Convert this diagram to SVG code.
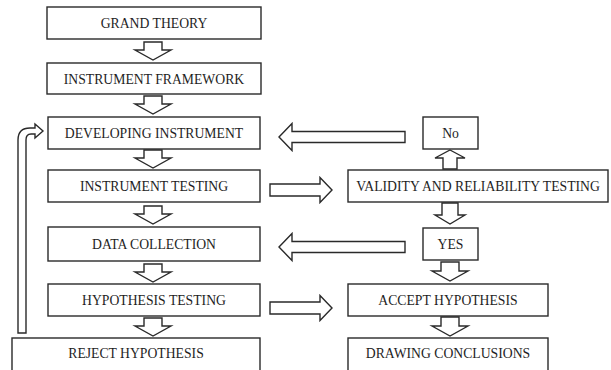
<svg xmlns="http://www.w3.org/2000/svg" width="611" height="370" viewBox="0 0 611 370">
<style>
.box{fill:#fff;stroke:#2a2a2a;stroke-width:1.4}
.arr{fill:#fff;stroke:#2a2a2a;stroke-width:1.4;stroke-linejoin:miter}
text{font-family:"Liberation Serif","Times New Roman",serif;font-size:13.7px;fill:#1e1e1e;text-anchor:middle}
</style>
<defs>
<path id="dnL" d="M -9,-18 H 9 V -10 H 18 L 0,0 L -18,-10 H -9 Z"/>
<path id="dnR" d="M -8,-21 H 8 V -9 H 15 L 0,0 L -15,-9 H -8 Z"/>
<path id="dnR2" d="M -9,-19 H 9 V -10 H 18 L 0,0 L -18,-10 H -9 Z"/>
<path id="lt" d="M 0,0 L 13,-13.5 V -5.5 H 126 V 5.5 H 13 V 13.5 Z"/>
<path id="rt" d="M 0,0 L -12,-12.5 V -6 H -62 V 6 H -12 V 12.5 Z"/>
</defs>
<g id="connectors">
<use href="#dnL" class="arr" x="153" y="60"/>
<use href="#dnL" class="arr" x="153" y="114"/>
<use href="#dnL" class="arr" x="153" y="168"/>
<use href="#dnL" class="arr" x="153" y="224"/>
<use href="#dnL" class="arr" x="153" y="282"/>
<use href="#dnL" class="arr" x="153" y="336"/>
<path class="arr" d="M 450,150 L 465,158 H 457 V 169 H 443 V 158 H 435 Z"/>
<use href="#dnR" class="arr" x="450" y="224"/>
<use href="#dnR2" class="arr" x="450" y="281"/>
<use href="#dnR2" class="arr" x="450" y="336"/>
<use href="#lt" class="arr" x="279" y="137"/>
<use href="#lt" class="arr" x="279" y="247"/>
<use href="#rt" class="arr" x="332" y="190"/>
<use href="#rt" class="arr" x="332" y="308"/>
<path class="arr" d="M 18,333 V 140 Q 18,128 30,128 H 35 V 124 L 43,131 L 35,138 V 134 H 31 Q 26,134 26,140 V 333 Z"/>
</g>
<g id="grand-theory"><rect class="box" x="47" y="7" width="214" height="32"/><text x="154" y="28">GRAND THEORY</text></g>
<g id="instrument-framework"><rect class="box" x="47" y="63" width="214" height="31"/><text x="154" y="83.5">INSTRUMENT FRAMEWORK</text></g>
<g id="developing-instrument"><rect class="box" x="48" y="117" width="212" height="32"/><text x="154" y="138">DEVELOPING INSTRUMENT</text></g>
<g id="instrument-testing"><rect class="box" x="48" y="170" width="212" height="32"/><text x="154" y="191">INSTRUMENT TESTING</text></g>
<g id="data-collection"><rect class="box" x="48" y="227" width="212" height="34"/><text x="154" y="249">DATA COLLECTION</text></g>
<g id="hypothesis-testing"><rect class="box" x="48" y="284" width="212" height="32"/><text x="154" y="305">HYPOTHESIS TESTING</text></g>
<g id="reject-hypothesis"><rect class="box" x="12" y="338" width="248" height="36"/><text x="136" y="358">REJECT HYPOTHESIS</text></g>
<g id="no"><rect class="box" x="423" y="117" width="55" height="32"/><text x="450.5" y="138">No</text></g>
<g id="validity-reliability-testing"><rect class="box" x="348" y="170" width="260" height="32"/><text x="478" y="191">VALIDITY AND RELIABILITY TESTING</text></g>
<g id="yes"><rect class="box" x="423" y="228" width="55" height="32"/><text x="450.5" y="249">YES</text></g>
<g id="accept-hypothesis"><rect class="box" x="348" y="284" width="200" height="32"/><text x="448" y="305">ACCEPT HYPOTHESIS</text></g>
<g id="drawing-conclusions"><rect class="box" x="348" y="338" width="200" height="36"/><text x="448" y="358">DRAWING CONCLUSIONS</text></g>
</svg>
